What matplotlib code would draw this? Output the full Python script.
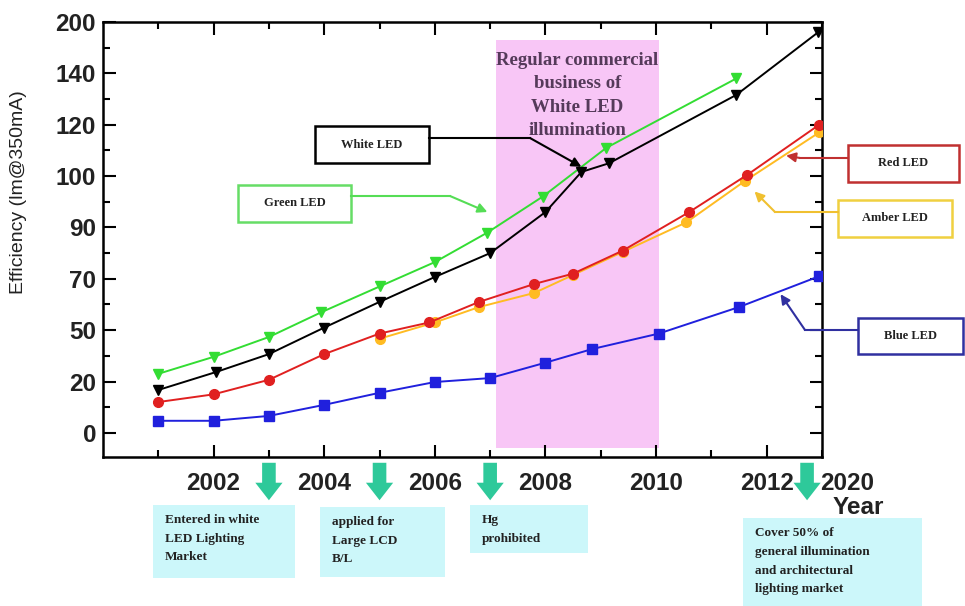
import numpy as np
import matplotlib
matplotlib.use("Agg")
import matplotlib.pyplot as plt
from matplotlib.patches import Rectangle
from matplotlib.transforms import blended_transform_factory

# efficiency axis is not linear: equally spaced labels
y_tick_values = [0, 20, 50, 70, 90, 100, 120, 140, 200]
x_major_years = [2002, 2004, 2006, 2008, 2010, 2012]

green_x = [2001, 2002, 2003, 2003.95, 2005, 2006, 2006.95, 2007.95, 2009.1, 2011.45]
green_y = [24.5, 34.4, 46, 57, 67, 76.5, 88, 96, 111, 138]

white_x = [2001, 2002.05, 2003, 2004, 2005, 2006, 2007, 2008, 2008.65, 2009.15, 2011.45, 2012.93]
white_y = [16.7, 25.6, 36, 51, 61, 70.7, 80, 93, 101.6, 105, 131.6, 188]

red_x = [2001, 2002, 2003, 2004, 2005, 2005.9, 2006.8, 2007.8, 2008.5, 2009.4, 2010.6, 2011.65, 2012.95]
red_y = [12, 15, 21, 36, 48, 53, 61, 68, 72, 81, 93, 100.5, 120]

amber_x = [2005, 2006, 2006.8, 2007.8, 2008.5, 2009.4, 2010.55, 2011.6, 2012.95]
amber_y = [45, 53, 59, 64.5, 71.5, 80.5, 91, 99, 117]

blue_x = [2001, 2002, 2003, 2004, 2005, 2006, 2007, 2008, 2008.85, 2010.05, 2011.5, 2012.95]
blue_y = [4.7, 4.7, 6.6, 10.9, 15.6, 19.8, 22, 31, 39, 48, 59, 71]

shade_years = (2007.1, 2010.05)
milestone_years = [2003, 2005, 2007, 2012.73]

W, H = 965, 606
fig = plt.figure(figsize=(W / 100, H / 100), dpi=100)
ax = fig.add_axes([103 / W, 1 - 457 / H, (822 - 103) / W, (457 - 22) / H])

# piecewise scale so that tick labels are evenly spaced
sv = [-20] + y_tick_values + [260]
sp = list(range(-1, len(y_tick_values) + 1))


def fwd(v):
    return np.interp(v, sv, sp)


def inv(u):
    return np.interp(u, sp, sv)


ax.set_yscale('function', functions=(fwd, inv))
ax.set_xlim(2000, 2013)
ax.set_ylim(inv(-0.47), 200)

ax.axvspan(shade_years[0], shade_years[1], ymin=0.02, ymax=0.958, color='#f8c6f6', lw=0, zorder=0)
ax.text(np.mean(shade_years), inv(7.42), "Regular commercial\nbusiness of\nWhite LED\nillumination",
        ha='center', va='top', family='Liberation Serif', weight='bold', fontsize=13.5,
        color='#553a5a', linespacing=1.5, zorder=1)

lw = 1.4
ax.plot(green_x, green_y, color='#33dd33', marker='v', ms=7.5, lw=lw, zorder=3)
ax.plot(white_x, white_y, color='black', marker='v', ms=7.5, lw=lw, zorder=3)
ax.plot(amber_x, amber_y, color='#ffbb22', marker='o', ms=7, lw=lw, zorder=3)
ax.plot(red_x, red_y, color='#e02020', marker='o', ms=7, lw=lw, zorder=4)
ax.plot(blue_x, blue_y, color='#2020dd', marker='s', ms=7, lw=lw, zorder=3)

ax.set_xticks(x_major_years)
ax.set_xticks(range(2001, 2014), minor=True)
ax.set_yticks(y_tick_values)
ax.set_yticks(inv(np.arange(0.5, 8, 1)), minor=True)
ax.set_yticklabels([str(v) for v in y_tick_values])
ax.set_xticklabels([str(v) for v in x_major_years])
ax.tick_params(which='both', direction='in', top=True, right=True, width=1.5)
ax.tick_params(which='major', length=9)
ax.tick_params(which='minor', length=5)
ax.tick_params(axis='x', pad=11)
ax.tick_params(axis='y', pad=5)
for lab in ax.get_xticklabels() + ax.get_yticklabels():
    lab.set_family('Liberation Sans')
    lab.set_weight('bold')
    lab.set_fontsize(17.5)
    lab.set_color('#222222')
for s in ax.spines.values():
    s.set_linewidth(1.8)

fig.text(19 / W, 1 - 192 / H, "Efficiency (lm@350mA)", rotation=90, ha='center', va='center',
         family='Liberation Sans', fontsize=14, color='#222222')
fig.text(847 / W, 1 - 483 / H, "2020", ha='center', va='center', family='Liberation Sans',
         weight='bold', fontsize=17.5, color='#222222')
fig.text(858 / W, 1 - 508 / H, "Year", ha='center', va='center', family='Liberation Sans',
         weight='bold', fontsize=17.5, color='#222222')


def px(x, y):
    return (x / W, 1 - y / H)


def label_box(x0, y0, x1, y1, text, edge):
    fig.patches.append(Rectangle(px(x0, y1), (x1 - x0) / W, (y1 - y0) / H,
                                 transform=fig.transFigure, fill=False, ec=edge, lw=1.8))
    fig.text(*px((x0 + x1) / 2, (y0 + y1) / 2), text, ha='center', va='center',
             family='Liberation Serif', weight='bold', fontsize=9, color='#222222')


def pointer(points, tip, color):
    xs = [p[0] / W for p in points]
    ys = [1 - p[1] / H for p in points]
    fig.lines.append(plt.Line2D(xs, ys, transform=fig.transFigure, color=color, lw=1.5))
    ax.annotate('', xy=tip, xycoords='data', xytext=px(*points[-1]), textcoords='figure fraction',
                arrowprops=dict(arrowstyle='-|>', color=color, lw=1.5, mutation_scale=14,
                                shrinkA=0, shrinkB=0), annotation_clip=False, zorder=6)


label_box(315, 126, 429, 163, "White LED", 'black')
pointer([(429, 138), (530, 138)], (white_x[8], white_y[8] + 2), 'black')
label_box(238, 185, 351, 222, "Green LED", '#66dd66')
pointer([(351, 196), (450, 196)], (green_x[6], 93), '#55dd55')
label_box(848, 145, 959, 182, "Red LED", '#c03030')
pointer([(848, 158), (800, 158)], (2012.35, 108), '#c03030')
label_box(838, 200, 952, 237, "Amber LED", '#f0d040')
pointer([(838, 212), (775, 212)], (2011.78, 97), '#f0c030')
label_box(858, 318, 963, 354, "Blue LED", '#3030a0')
pointer([(858, 330), (805, 330)], (2012.25, 64), '#3030a0')

# milestone arrows under the year axis
bt = blended_transform_factory(ax.transData, fig.transFigure)
for yr in milestone_years:
    ax.annotate('', xy=(yr, 1 - 503 / H), xycoords=bt, xytext=(yr, 1 - 460 / H), textcoords=bt,
                arrowprops=dict(arrowstyle='simple,head_width=1.4,head_length=0.9,tail_width=0.7',
                                color='#2ec99a', lw=0, mutation_scale=14),
                annotation_clip=False)

notes = [
    (153, 505, 295, 578, "Entered in white\nLED Lighting\nMarket"),
    (320, 507, 445, 577, "applied for\nLarge LCD\nB/L"),
    (470, 505, 588, 553, "Hg\nprohibited"),
    (743, 518, 922, 606, "Cover 50% of\ngeneral illumination\nand architectural\nlighting market"),
]
for x0, y0, x1, y1, txt in notes:
    fig.patches.append(Rectangle(px(x0, y1), (x1 - x0) / W, (y1 - y0) / H,
                                 transform=fig.transFigure, fc='#ccf7fa', ec='none'))
    fig.text(*px(x0 + 12, y0 + 9), txt, ha='left', va='top', family='Liberation Serif',
             weight='bold', fontsize=9.5, color='#222222', linespacing=1.75)

fig.savefig("out.png", dpi=100)
